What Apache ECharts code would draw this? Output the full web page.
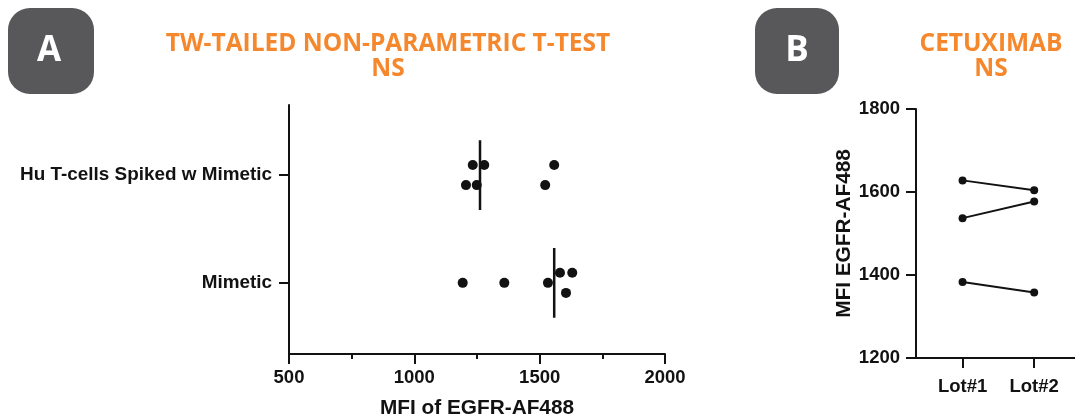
<!DOCTYPE html>
<html>
<head>
<meta charset="utf-8">
<script src="https://cdn.jsdelivr.net/npm/echarts@6/dist/echarts.min.js"></script>
<style>
  html, body { margin: 0; padding: 0; background: #fff; }
  #chart { width: 1075px; height: 419px; }
</style>
</head>
<body>
<div id="chart"></div>
<script>
// panel A data
const groups = ["Mimetic", "Hu T-cells Spiked w Mimetic"]; // y positions 1, 2
const mimeticVals = [1193, 1359, 1533, 1581, 1630, 1605];
const mimeticJitter = [0, 0, 0, 0.093, 0.093, -0.093];
const huVals = [1233, 1279, 1558, 1206, 1249, 1522];
const huJitter = [0.093, 0.093, 0.093, -0.093, -0.093, -0.093];
const medians = [1558, 1262]; // mimetic, hu
const xTicksA = [500, 1000, 1500, 2000];

// panel B data
const lots = ["Lot#1", "Lot#2"]; // x positions 1, 2
const lot1 = [1628, 1537, 1383];
const lot2 = [1604, 1577, 1358];
const yTicksB = [1200, 1400, 1600, 1800];

const black = "#121212";
const orange = "#F5872D";
const badge = "#58585a";
const fontAx = "'Liberation Sans', Arial, sans-serif";
const fontTitle = "'Open Sans', sans-serif";
const halfLen = 0.324;

var myChart = echarts.init(document.getElementById("chart"));

const axisLine = { show: true, onZero: false, lineStyle: { color: black, width: 2 } };
const tickStyle = { color: black, width: 2 };
const lbl = { color: black, fontFamily: fontAx, fontWeight: "bold", fontSize: 18.5 };
const plain = (v) => String(v);

let series = [];
// scatter dots panel A
series.push({
  type: "scatter", xAxisIndex: 0, yAxisIndex: 0, symbolSize: 10,
  itemStyle: { color: black, opacity: 1 },
  data: mimeticVals.map((v, i) => [v, 1 + mimeticJitter[i]]),
});
series.push({
  type: "scatter", xAxisIndex: 0, yAxisIndex: 0, symbolSize: 10,
  itemStyle: { color: black, opacity: 1 },
  data: huVals.map((v, i) => [v, 2 + huJitter[i]]),
});
// median lines
medians.forEach((m, i) => {
  series.push({
    type: "line", xAxisIndex: 0, yAxisIndex: 0, symbol: "none",
    lineStyle: { color: black, width: 2.5 },
    data: [[m, i + 1 - halfLen], [m, i + 1 + halfLen]],
  });
});
// paired lines panel B
lot1.forEach((v, i) => {
  series.push({
    type: "line", xAxisIndex: 1, yAxisIndex: 1, symbol: "circle", symbolSize: 8,
    itemStyle: { color: black },
    lineStyle: { color: black, width: 2 },
    data: [[1, v], [2, lot2[i]]],
  });
});

const titleStyle = { color: orange, fontFamily: fontTitle, fontWeight: "bold", fontSize: 24.5, lineHeight: 25 };

var option = {
  animation: false,
  backgroundColor: "#fff",
  title: [
    { text: "TW-TAILED NON-PARAMETRIC T-TEST\nNS", left: 383, top: 27, textAlign: "center", textStyle: titleStyle },
    { text: "CETUXIMAB\nNS", left: 986, top: 27, textAlign: "center", textStyle: titleStyle },
  ],
  graphic: [
    { type: "rect", shape: { x: 8, y: 8, width: 86, height: 86, r: 22 }, style: { fill: badge } },
    { type: "text", x: 49, y: 51, style: { text: "A", fill: "#fff", font: "bold 35px 'Open Sans', sans-serif", align: "center", verticalAlign: "middle" } },
    { type: "rect", shape: { x: 755, y: 8, width: 84, height: 86, r: 22 }, style: { fill: badge } },
    { type: "text", x: 797, y: 51, style: { text: "B", fill: "#fff", font: "bold 35px 'Open Sans', sans-serif", align: "center", verticalAlign: "middle" } },
  ],
  grid: [
    { left: 289, top: 105, width: 376, height: 249, outerBoundsMode: "none" },
    { left: 916, top: 109, width: 159, height: 249, outerBoundsMode: "none" },
  ],
  xAxis: [
    {
      gridIndex: 0, type: "value", min: xTicksA[0], max: xTicksA[xTicksA.length - 1], interval: 500,
      axisLine: axisLine,
      axisTick: { show: true, length: 10, lineStyle: tickStyle },
      minorTick: { show: true, splitNumber: 2, length: 5, lineStyle: tickStyle },
      splitLine: { show: false },
      axisLabel: Object.assign({ margin: 14, formatter: plain }, lbl),
      name: "MFI of EGFR-AF488", nameLocation: "middle", nameGap: 44,
      nameTextStyle: { color: black, fontFamily: fontAx, fontWeight: "bold", fontSize: 20.8 },
    },
    {
      gridIndex: 1, type: "value", min: 0.35, max: 2.57,
      axisLine: axisLine,
      axisTick: { show: true, length: 10, lineStyle: tickStyle, customValues: [1, 2] },
      splitLine: { show: false },
      axisLabel: Object.assign({ margin: 19, customValues: [1, 2], formatter: (v) => lots[Math.round(v) - 1] }, lbl),
    },
  ],
  yAxis: [
    {
      gridIndex: 0, type: "value", min: 0.34, max: 2.65,
      axisLine: axisLine,
      axisTick: { show: true, length: 10, lineStyle: tickStyle, customValues: [1, 2] },
      splitLine: { show: false },
      axisLabel: Object.assign({}, lbl, { margin: 17, fontSize: 18.9, customValues: [1, 2], formatter: (v) => groups[Math.round(v) - 1] }),
    },
    {
      gridIndex: 1, type: "value", min: yTicksB[0], max: yTicksB[yTicksB.length - 1], interval: 200,
      axisLine: axisLine,
      axisTick: { show: true, length: 10, lineStyle: tickStyle },
      splitLine: { show: false },
      axisLabel: Object.assign({ margin: 16, formatter: plain }, lbl),
      name: "MFI EGFR-AF488", nameLocation: "middle", nameGap: 54, nameRotate: 90,
      nameTextStyle: { color: black, fontFamily: fontAx, fontWeight: "bold", fontSize: 20.8 },
    },
  ],
  series: series,
};

myChart.setOption(option);
</script>
</body>
</html>
